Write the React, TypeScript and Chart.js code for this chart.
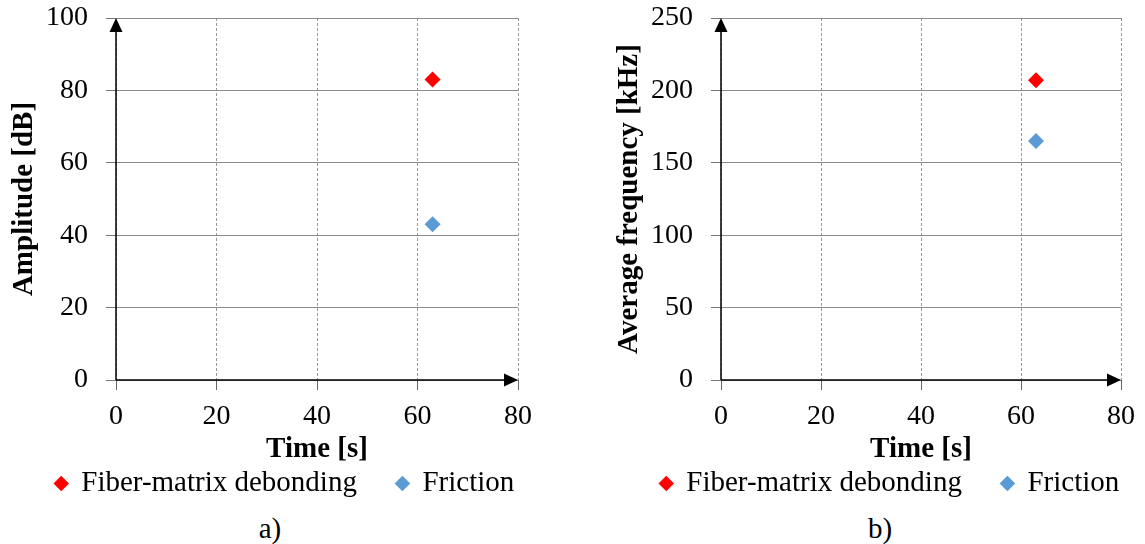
import React, { useEffect, useRef } from 'react';
import { Chart, registerables } from 'chart.js';
Chart.register(...registerables);

const seriesNames = ['Fiber-matrix debonding', 'Friction'];
const seriesColors = ['#ff0000', '#5b9bd5'];
const eventTime = [63, 63];
const amplitude = [83, 43];
const avgFrequency = [207, 165];
const timeMin = 0;
const timeMax = 80;
const timeStep = 20;

const FONT = '"Liberation Serif", "Times New Roman", serif';

const axisArrows = {
  id: 'axisArrows',
  beforeDatasetsDraw(chart: any) {
    const { ctx, chartArea } = chart;
    const { left, right, top, bottom } = chartArea;
    ctx.save();
    ctx.strokeStyle = '#000';
    ctx.fillStyle = '#000';
    ctx.lineWidth = 1.5;
    ctx.beginPath();
    ctx.moveTo(left, bottom);
    ctx.lineTo(left, top + 4);
    ctx.moveTo(left, bottom);
    ctx.lineTo(right - 4, bottom);
    ctx.stroke();
    ctx.beginPath();
    ctx.moveTo(left, top);
    ctx.lineTo(left - 6.5, top + 14);
    ctx.lineTo(left + 6.5, top + 14);
    ctx.closePath();
    ctx.fill();
    ctx.beginPath();
    ctx.moveTo(right, bottom);
    ctx.lineTo(right - 14, bottom - 6.5);
    ctx.lineTo(right - 14, bottom + 6.5);
    ctx.closePath();
    ctx.fill();
    ctx.restore();
  },
};

function legendShift(dx: number) {
  return {
    id: 'legendShift',
    afterLayout(chart: any) {
      const lg = chart.legend;
      if (lg) {
        lg.left += dx;
        lg.right += dx;
      }
    },
  };
}

function makeConfig(
  yTitle: string,
  yMax: number,
  yStep: number,
  yMajor: number,
  values: number[],
  dx: number,
  yWidth: number,
  titlePad: number
): any {
  return {
    type: 'scatter',
    data: {
      datasets: seriesNames.map((name, i) => ({
        label: name,
        data: [{ x: eventTime[i], y: values[i] }],
        backgroundColor: seriesColors[i],
        borderColor: seriesColors[i],
        borderWidth: 0,
        pointStyle: 'rectRot',
        pointRadius: 8,
        pointHoverRadius: 8,
      })),
    },
    options: {
      responsive: false,
      animation: false,
      devicePixelRatio: 1,
      layout: { padding: { top: 18, right: 14, left: 0, bottom: 0 } },
      plugins: {
        tooltip: { enabled: false },
        legend: {
          position: 'bottom',
          labels: {
            usePointStyle: true,
            pointStyle: 'rectRot',
            boxWidth: 11,
            boxHeight: 11,
            padding: 40,
            color: '#000',
            font: { family: FONT, size: 29 },
          },
        },
      },
      scales: {
        x: {
          type: 'linear',
          min: timeMin,
          max: timeMax,
          afterFit(scale: any) {
            scale.height = 49;
            scale.paddingLeft = 0;
            scale.paddingRight = 0;
          },
          ticks: { stepSize: timeStep, color: '#000', padding: 10, font: { family: FONT, size: 28 } },
          grid: { color: '#999', tickColor: '#666', tickLength: 10, lineWidth: 1 },
          border: { display: false, dash: [3, 2] },
          title: {
            display: true,
            text: 'Time [s]',
            color: '#000',
            font: { family: FONT, size: 29, weight: 'bold' },
            padding: { top: 0, bottom: -38.4 },
          },
        },
        y: {
          type: 'linear',
          min: 0,
          max: yMax,
          afterFit(scale: any) {
            scale.width = yWidth;
            scale.paddingTop = 0;
            scale.paddingBottom = 0;
          },
          ticks: {
            stepSize: yStep,
            color: '#000',
            padding: 18,
            font: { family: FONT, size: 28 },
            callback: (v: any) => (Number(v) % yMajor === 0 ? String(v) : ''),
          },
          grid: {
            color: (c: any) => (c.tick && c.tick.value % yMajor === 0 ? '#8c8c8c' : '#d2d2d2'),
            tickColor: (c: any) => (c.tick && c.tick.value % yMajor === 0 ? '#777' : 'rgba(0,0,0,0)'),
            tickLength: 10,
            lineWidth: 1,
          },
          border: { display: false },
          title: {
            display: true,
            text: yTitle,
            color: '#000',
            font: { family: FONT, size: 29, weight: 'bold' },
            padding: { top: titlePad, bottom: 0 },
          },
        },
      },
    },
    plugins: [axisArrows, legendShift(dx)],
  };
}

function ChartPanel(props: { config: any; left: number; width: number; caption: string; captionX: number }) {
  const ref = useRef<HTMLCanvasElement | null>(null);
  useEffect(() => {
    if (!ref.current) return;
    const chart = new Chart(ref.current, props.config);
    return () => chart.destroy();
  }, []);
  return (
    <>
      <canvas
        ref={ref}
        width={props.width}
        height={508}
        style={{ position: 'absolute', left: props.left, top: 0, width: props.width, height: 508 }}
      />
      <div
        style={{
          position: 'absolute',
          left: props.captionX - 40,
          width: 80,
          top: 511,
          textAlign: 'center',
          fontFamily: FONT,
          fontSize: 29,
          lineHeight: '34px',
          color: '#000',
        }}
      >
        {props.caption}
      </div>
    </>
  );
}

export default function App() {
  return (
    <div style={{ position: 'absolute', left: 0, top: 0, width: 1145, height: 544, background: '#fff', overflow: 'hidden' }}>
      <ChartPanel
        config={makeConfig('Amplitude [dB]', 100, 10, 20, amplitude, 46, 156, 47)}
        left={-40}
        width={572}
        caption="a)"
        captionX={270}
      />
      <ChartPanel
        config={makeConfig('Average frequency [kHz]', 250, 25, 50, avgFrequency, 47, 156, 47)}
        left={565}
        width={570}
        caption="b)"
        captionX={880}
      />
    </div>
  );
}
